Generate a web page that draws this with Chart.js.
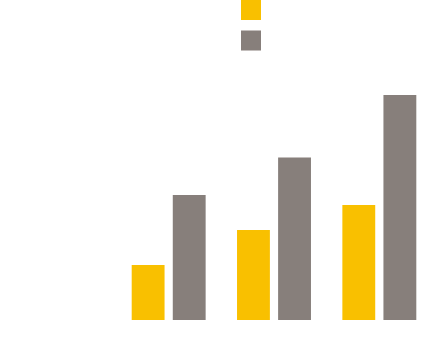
<!DOCTYPE html>
<html lang="en">
<head>
    <meta charset="UTF-8">
    <title>Bar chart</title>
    <script src="https://cdn.jsdelivr.net/npm/chart.js"></script>
    <style>
        body {
            margin: 0;
            background-color: #ffffff;
        }

        canvas {
            display: block;
        }
    </style>
</head>
<body>
    <canvas id="barChart" width="437" height="361"></canvas>

    <script>
        const categories = ['Groupe 1', 'Groupe 2', 'Groupe 3'];
        const seriesNames = ['Série A', 'Série B'];
        const seriesA = [2.2, 3.6, 4.6];
        const seriesB = [5.0, 6.5, 9.0];

        const yellow = '#F9C000';
        const grey = '#877F7B';

        // legend squares only, no text visible in the reference
        const squareLegend = {
            id: 'squareLegend',
            afterDraw(chart) {
                const { ctx } = chart;
                ctx.save();
                chart.data.datasets.forEach((ds, i) => {
                    ctx.fillStyle = ds.backgroundColor;
                    ctx.fillRect(241, i * 30.5, 20, 20);
                });
                ctx.restore();
            }
        };

        const ctx = document.getElementById('barChart').getContext('2d');

        new Chart(ctx, {
            type: 'bar',
            data: {
                labels: categories,
                datasets: [{
                    label: seriesNames[0],
                    data: seriesA,
                    backgroundColor: yellow,
                }, {
                    label: seriesNames[1],
                    data: seriesB,
                    backgroundColor: grey,
                }]
            },
            options: {
                responsive: false,
                animation: false,
                categoryPercentage: 0.78,
                barPercentage: 0.8,
                layout: {
                    padding: { left: 116, right: 5, top: 70, bottom: 41 }
                },
                plugins: {
                    legend: { display: false },
                    tooltip: { enabled: false },
                },
                scales: {
                    x: { display: false },
                    y: { display: false, min: 0, max: 10 },
                },
            },
            plugins: [squareLegend]
        });
    </script>
</body>
</html>
